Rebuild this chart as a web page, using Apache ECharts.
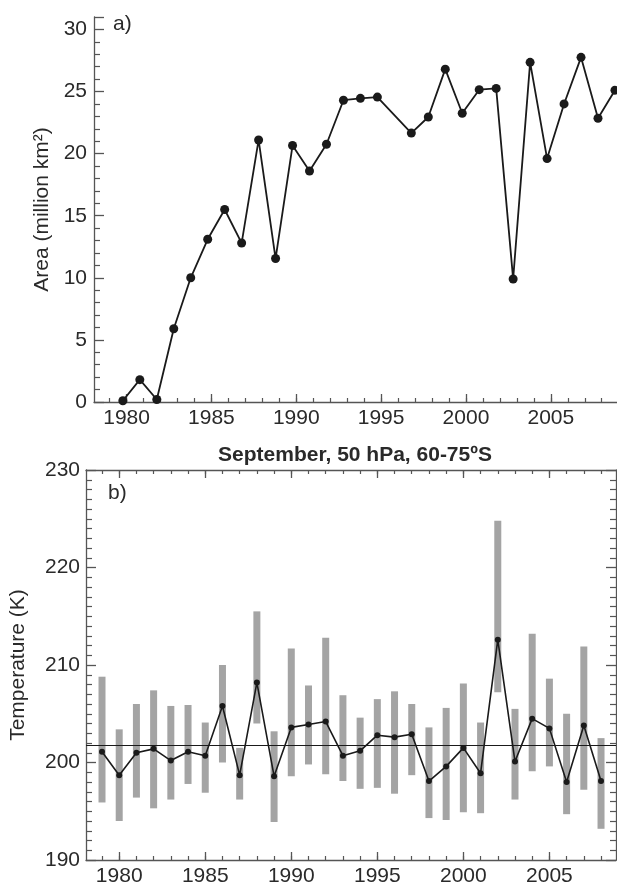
<!DOCTYPE html>
<html>
<head>
<meta charset="utf-8">
<script src="https://cdn.jsdelivr.net/npm/echarts@6/dist/echarts.min.js"></script>
<style>
html,body{margin:0;padding:0;background:#fff;}
#c{width:617px;height:887px;}
</style>
</head>
<body>
<div id="c"></div>
<script>
// ---- Panel a) : ozone hole area ----
const areaYears = [1980,1981,1982,1983,1984,1985,1986,1987,1988,1989,1990,1991,1992,1993,1994,1995,1997,1998,1999,2000,2001,2002,2003,2004,2005,2006,2007,2008,2009];
const areaValues = [0.1,1.8,0.2,5.9,10.0,13.1,15.5,12.8,21.1,11.55,20.65,18.6,20.75,24.3,24.45,24.55,21.65,22.95,26.8,23.25,25.15,25.25,9.9,27.35,19.6,24.0,27.75,22.85,25.1];
const areaYTicks = [0,5,10,15,20,25,30];
const yearLabels = [1980,1985,1990,1995,2000,2005];
const minorYears = [1979,1980,1981,1982,1983,1984,1985,1986,1987,1988,1989,1990,1991,1992,1993,1994,1995,1996,1997,1998,1999,2000,2001,2002,2003,2004,2005,2006,2007,2008];

// ---- Panel b) : September 50 hPa 60-75S temperature ----
const tempYears = [1979,1980,1981,1982,1983,1984,1985,1986,1987,1988,1989,1990,1991,1992,1993,1994,1995,1996,1997,1998,1999,2000,2001,2002,2003,2004,2005,2006,2007,2008];
const tempMean = [201.1,198.7,201.0,201.4,200.2,201.1,200.7,205.8,198.7,208.2,198.6,203.6,203.9,204.2,200.7,201.2,202.8,202.6,202.9,198.1,199.6,201.5,198.9,212.6,200.1,204.5,203.5,198.0,203.8,198.1];
const tempMax = [208.8,203.4,206.0,207.4,205.8,205.9,204.1,210.0,201.5,215.5,203.2,211.7,207.9,212.8,206.9,204.6,206.5,207.3,206.0,203.6,205.6,208.1,204.1,224.8,205.5,213.2,208.6,205.0,211.9,202.5];
const tempMin = [195.9,194.0,196.4,195.3,196.2,197.8,196.9,200.0,196.2,204.0,193.9,198.6,199.8,198.8,198.1,197.3,197.4,196.8,198.7,194.3,194.1,194.9,194.8,207.2,196.2,199.1,199.6,194.7,197.2,193.2];
const climatology = 201.8;
const tempYTicks = [190,200,210,220,230];

const FONT = 'Liberation Sans, Arial, sans-serif';
const TXT = '#2a2a2a';
const AX = '#555';

const areaData = areaYears.map((y,i)=>[y, areaValues[i]]);
const meanData = tempYears.map((y,i)=>[y, tempMean[i]]);
const rangeData = tempYears.map((y,i)=>[y, tempMin[i], tempMax[i]]);

// axis ranges
const aMin = 1978.08, aMax = 2008.9;
const aShift = 0.22;
const bMin = 1978.07, bMax = 2008.87;

function xMajor(grid, pos, min, max, labels){
  return {
    type:'value', gridIndex:grid, position:pos, min:min, max:max,
    axisLine:{show:true, onZero:false, lineStyle:{color:AX, width:1.3}},
    axisTick:{show:true, inside:true, length:8, customValues:yearLabels, lineStyle:{color:AX, width:1.3}},
    axisLabel:{show:labels, customValues:yearLabels, color:TXT, fontSize:21, fontFamily:FONT, margin:labels?6:0,
      formatter:v=>String(Math.round(v))},
    splitLine:{show:false}
  };
}
function xMinor(grid, pos, min, max){
  return {
    type:'value', gridIndex:grid, position:pos, min:min, max:max,
    axisLine:{show:false, onZero:false},
    axisTick:{show:true, inside:true, length:4, customValues:minorYears, lineStyle:{color:AX, width:1.2}},
    axisLabel:{show:false},
    splitLine:{show:false}
  };
}

const option = {
  animation:false,
  backgroundColor:'#fff',
  grid:[
    {left:94, top:17, height:385, right:0},
    {left:84, top:470, height:395, right:1}
  ],
  graphic:[
    {type:'text', left:113, top:14, style:{text:'a)', font:'21px '+FONT, fill:TXT}},
    {type:'text', left:108, top:483, style:{text:'b)', font:'21px '+FONT, fill:TXT}},
    {type:'text', x:355, y:455, style:{text:'September, 50 hPa, 60-75ºS', font:'bold 21px '+FONT, fill:TXT, align:'center', verticalAlign:'middle'}}
  ],
  xAxis:[
    xMajor(0,'bottom',aMin,aMax,true),
    xMinor(0,'bottom',aMin,aMax),
    {type:'value', gridIndex:0, show:false, min:aMin+aShift, max:aMax+aShift},
    xMajor(1,'bottom',bMin,bMax,true),
    xMinor(1,'bottom',bMin,bMax),
    xMajor(1,'top',bMin,bMax,false),
    xMinor(1,'top',bMin,bMax)
  ],
  yAxis:[
    {
      type:'value', gridIndex:0, min:0, max:31, interval:5, position:'left',
      name:'Area (million km²)', nameLocation:'middle', nameGap:35, nameRotate:90,
      nameTextStyle:{color:TXT, fontSize:21, fontFamily:FONT},
      axisLine:{show:true, onZero:false, lineStyle:{color:AX, width:1.3}},
      axisTick:{show:true, inside:true, length:10, lineStyle:{color:AX, width:1.3}},
      minorTick:{show:true, splitNumber:5, length:6, lineStyle:{color:AX, width:1.2}},
      axisLabel:{color:TXT, fontSize:21, fontFamily:FONT, margin:7,
        formatter:v=>areaYTicks.includes(v)?String(v):''},
      splitLine:{show:false}
    },
    {
      type:'value', gridIndex:1, min:190, max:230, interval:10, position:'left',
      name:'Temperature (K)', nameLocation:'middle', nameGap:57, nameRotate:90,
      nameTextStyle:{color:TXT, fontSize:21, fontFamily:FONT},
      axisLine:{show:true, onZero:false, lineStyle:{color:AX, width:1.3}},
      axisTick:{show:true, inside:true, length:10, lineStyle:{color:AX, width:1.3}},
      minorTick:{show:true, splitNumber:10, length:6, lineStyle:{color:AX, width:1.2}},
      axisLabel:{color:TXT, fontSize:21, fontFamily:FONT, margin:6,
        formatter:v=>tempYTicks.includes(v)?String(v):''},
      splitLine:{show:false}
    },
    {
      type:'value', gridIndex:1, min:190, max:230, interval:10, position:'right',
      axisLine:{show:true, onZero:false, lineStyle:{color:AX, width:1.3}},
      axisTick:{show:true, inside:true, length:10, lineStyle:{color:AX, width:1.3}},
      minorTick:{show:true, splitNumber:10, length:6, lineStyle:{color:AX, width:1.2}},
      axisLabel:{show:false},
      splitLine:{show:false}
    }
  ],
  series:[
    {
      type:'line', xAxisIndex:2, yAxisIndex:0, data:areaData,
      symbol:'circle', symbolSize:9, showAllSymbol:true,
      lineStyle:{color:'#1a1a1a', width:1.8},
      itemStyle:{color:'#1a1a1a'},
      clip:false
    },
    {
      type:'custom', xAxisIndex:3, yAxisIndex:1, data:rangeData,
      encode:{x:0, y:[1,2]},
      renderItem:function(params, api){
        const x = api.value(0);
        const top = api.coord([x, api.value(2)]);
        const bot = api.coord([x, api.value(1)]);
        return {type:'rect', shape:{x:top[0]-3.5, y:top[1], width:7, height:bot[1]-top[1]},
          style:{fill:'#a4a4a4'}};
      },
      z:1
    },
    {
      type:'line', xAxisIndex:3, yAxisIndex:1, data:meanData,
      symbol:'circle', symbolSize:6, showAllSymbol:true,
      lineStyle:{color:'#1a1a1a', width:1.6},
      itemStyle:{color:'#1a1a1a'},
      z:3,
      markLine:{
        silent:true, symbol:['none','none'], label:{show:false},
        lineStyle:{color:'#1a1a1a', width:1.1, type:'solid'},
        data:[{yAxis:climatology}]
      }
    }
  ]
};

const chart = echarts.init(document.getElementById('c'), null, {renderer:'canvas'});
chart.setOption(option);
</script>
</body>
</html>
